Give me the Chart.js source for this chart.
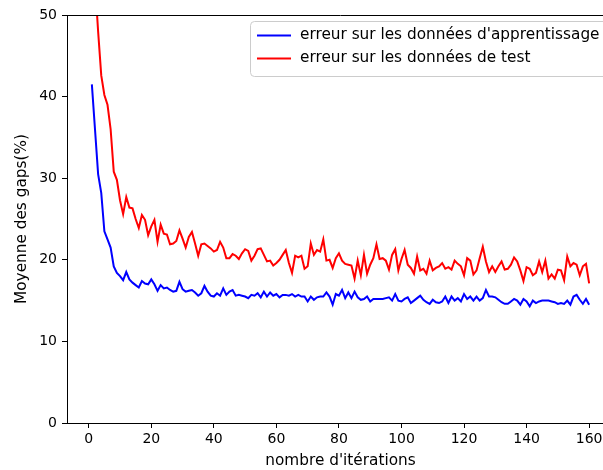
<!DOCTYPE html>
<html lang="fr">
<head>
    <meta charset="UTF-8">
    <title>Moyenne des gaps</title>
    <script src="https://cdn.jsdelivr.net/npm/chart.js"></script>
    <style>
        html, body { margin: 0; padding: 0; overflow: hidden; background: #fff; }
        #wrap { width: 614px; height: 470px; }
    </style>
</head>
<body>
    <div id="wrap"><canvas id="myChart"></canvas></div>
    <script>
        // erreur sur les données d'apprentissage (iterations 1..160)
        const trainErr = [
            41.5, 36.0, 30.5, 28.2, 23.5, 22.5, 21.5, 19.2, 18.4, 18.0,
            17.5, 18.5, 17.6, 17.2, 16.9, 16.6, 17.4, 17.1, 17.0, 17.6,
            17.0, 16.2, 16.9, 16.5, 16.6, 16.3, 16.1, 16.2, 17.3, 16.4,
            16.1, 16.2, 16.3, 16.0, 15.6, 15.9, 16.8, 16.1, 15.6, 15.5,
            15.9, 15.6, 16.5, 15.7, 16.1, 16.3, 15.6, 15.7, 15.6, 15.5,
            15.3, 15.7, 15.6, 15.9, 15.4, 16.1, 15.5, 16.0, 15.6, 15.8,
            15.4, 15.7, 15.7, 15.6, 15.8, 15.5, 15.7, 15.5, 15.5, 14.9,
            15.5, 15.1, 15.4, 15.5, 15.5, 16.0, 15.5, 14.5, 15.8, 15.6,
            16.3, 15.3, 16.0, 15.3, 16.1, 15.4, 15.1, 15.2, 15.5, 14.9,
            15.2, 15.2, 15.2, 15.2, 15.3, 15.4, 15.0, 15.8, 15.0, 14.9,
            15.2, 15.4, 14.7, 15.0, 15.3, 15.6, 15.1, 14.8, 14.6, 15.1,
            14.8, 14.7, 14.9, 15.5, 14.7, 15.5, 15.0, 15.3, 14.9, 15.8,
            15.2, 15.5, 15.0, 15.5, 15.0, 15.3, 16.3, 15.5, 15.5, 15.4,
            15.1, 14.8, 14.6, 14.6, 14.9, 15.2, 15.0, 14.5, 15.2, 14.9,
            14.3, 15.0, 14.7, 14.9, 15.0, 15.0, 15.0, 14.9, 14.8, 14.6,
            14.7, 14.6, 15.0, 14.5, 15.5, 15.7, 15.1, 14.6, 15.2, 14.5
        ];

        // erreur sur les données de test (iterations 1..160)
        const testErr = [
            62.0, 54.0, 48.0, 42.6, 40.2, 39.0, 36.0, 30.8, 29.8, 27.3,
            25.6, 27.7, 26.4, 26.3, 25.0, 23.9, 25.5, 24.9, 23.0, 24.1,
            24.9, 22.2, 24.3, 23.2, 23.1, 21.9, 22.0, 22.3, 23.6, 22.6,
            21.5, 22.8, 23.4, 22.0, 20.5, 21.9, 22.0, 21.7, 21.4, 21.0,
            21.2, 22.2, 21.5, 20.2, 20.2, 20.7, 20.5, 20.1, 20.8, 21.3,
            21.1, 19.9, 20.5, 21.3, 21.4, 20.6, 19.8, 19.9, 19.3, 19.6,
            20.0, 20.6, 21.2, 19.6, 18.4, 20.5, 20.3, 20.5, 18.9, 19.2,
            22.0, 20.6, 21.2, 21.0, 22.5, 19.9, 20.0, 19.0, 20.2, 20.8,
            19.9, 19.5, 19.4, 19.3, 17.7, 19.9, 18.1, 20.6, 18.3, 19.4,
            20.2, 21.9, 20.1, 20.2, 19.9, 18.8, 20.6, 21.3, 18.7, 20.1,
            21.2, 19.4, 19.0, 18.3, 20.4, 18.7, 18.9, 18.3, 19.9, 18.7,
            19.0, 19.2, 19.6, 18.9, 19.1, 18.8, 19.9, 19.5, 19.2, 18.1,
            20.2, 19.9, 18.2, 18.7, 20.2, 21.6, 19.8, 18.5, 19.2, 18.5,
            19.2, 19.8, 18.8, 18.9, 19.4, 20.3, 19.8, 18.7, 17.4, 19.1,
            18.9, 18.1, 18.4, 19.8, 18.5, 19.9, 17.7, 18.2, 17.7, 18.8,
            18.7, 17.5, 20.4, 19.2, 19.6, 19.4, 18.1, 19.2, 19.5, 17.1
        ];

        const iterations = trainErr.map((_, i) => i + 1);
        const xTicks = [0, 20, 40, 60, 80, 100, 120, 140, 160];
        const seriesLabels = ["erreur sur les données d'apprentissage", 'erreur sur les données de test'];

        const FONT = "'DejaVu Sans', sans-serif";
        Chart.defaults.font.family = FONT;
        Chart.defaults.color = '#000';

        // top spine + matplotlib-like legend inside the axes
        const mplFrame = {
            id: 'mplFrame',
            afterDraw(chart) {
                const ctx = chart.ctx;
                const a = chart.chartArea;
                ctx.save();
                ctx.strokeStyle = '#000';
                ctx.lineWidth = 1;
                ctx.beginPath();
                ctx.moveTo(a.left, a.top + 0.5);
                ctx.lineTo(a.right, a.top + 0.5);
                ctx.stroke();

                const bx = a.left + 183, by = a.top + 6;
                const bw = a.right - 5 - bx, bh = 55;
                ctx.fillStyle = 'rgba(255,255,255,0.8)';
                ctx.strokeStyle = '#cccccc';
                ctx.beginPath();
                ctx.roundRect(bx + 0.5, by + 0.5, bw, bh, 4);
                ctx.fill();
                ctx.stroke();

                ctx.font = '15.3px ' + FONT;
                ctx.textBaseline = 'middle';
                chart.data.datasets.forEach((ds, i) => {
                    const y = by + 14.5 + i * 23;
                    ctx.strokeStyle = ds.borderColor;
                    ctx.lineWidth = 2;
                    ctx.beginPath();
                    ctx.moveTo(bx + 7, y);
                    ctx.lineTo(bx + 41, y);
                    ctx.stroke();
                    ctx.fillStyle = '#000';
                    ctx.fillText(ds.label, bx + 50, y);
                });
                ctx.restore();
            }
        };

        const ctx = document.getElementById('myChart').getContext('2d');
        const myChart = new Chart(ctx, {
            type: 'line',
            data: {
                datasets: [{
                    label: seriesLabels[0],
                    data: iterations.map((x, i) => ({ x: x, y: trainErr[i] })),
                    borderColor: '#0000ff',
                    borderWidth: 2,
                    pointRadius: 0,
                    fill: false
                }, {
                    label: seriesLabels[1],
                    data: iterations.map((x, i) => ({ x: x, y: testErr[i] })),
                    borderColor: '#ff0000',
                    borderWidth: 2,
                    pointRadius: 0,
                    fill: false
                }]
            },
            options: {
                responsive: true,
                maintainAspectRatio: false,
                animation: false,
                layout: { padding: { top: 15, left: 0, right: 0, bottom: 0 } },
                plugins: {
                    legend: { display: false },
                    tooltip: { enabled: false }
                },
                scales: {
                    x: {
                        type: 'linear',
                        min: -6.95,
                        max: 167.95,
                        afterBuildTicks: s => { s.ticks = xTicks.map(v => ({ value: v })); },
                        afterFit: s => { s.height = 47; },
                        ticks: { font: { size: 14 }, padding: 3, maxRotation: 0, autoSkip: false },
                        grid: { drawOnChartArea: false, tickLength: 5, tickColor: '#000' },
                        border: { color: '#000', width: 1 },
                        title: { display: true, text: "nombre d'itérations", font: { size: 15.3 }, padding: { top: 0, bottom: 0 } }
                    },
                    y: {
                        min: 0,
                        max: 50,
                        afterFit: s => { s.width = 67; },
                        ticks: { stepSize: 10, font: { size: 14 }, padding: 5 },
                        grid: { drawOnChartArea: false, tickLength: 5, tickColor: '#000' },
                        border: { color: '#000', width: 1 },
                        title: { display: true, text: 'Moyenne des gaps(%)', font: { size: 15.3 }, padding: { top: 13, bottom: 0 } }
                    }
                }
            },
            plugins: [mplFrame]
        });
    </script>
</body>
</html>
